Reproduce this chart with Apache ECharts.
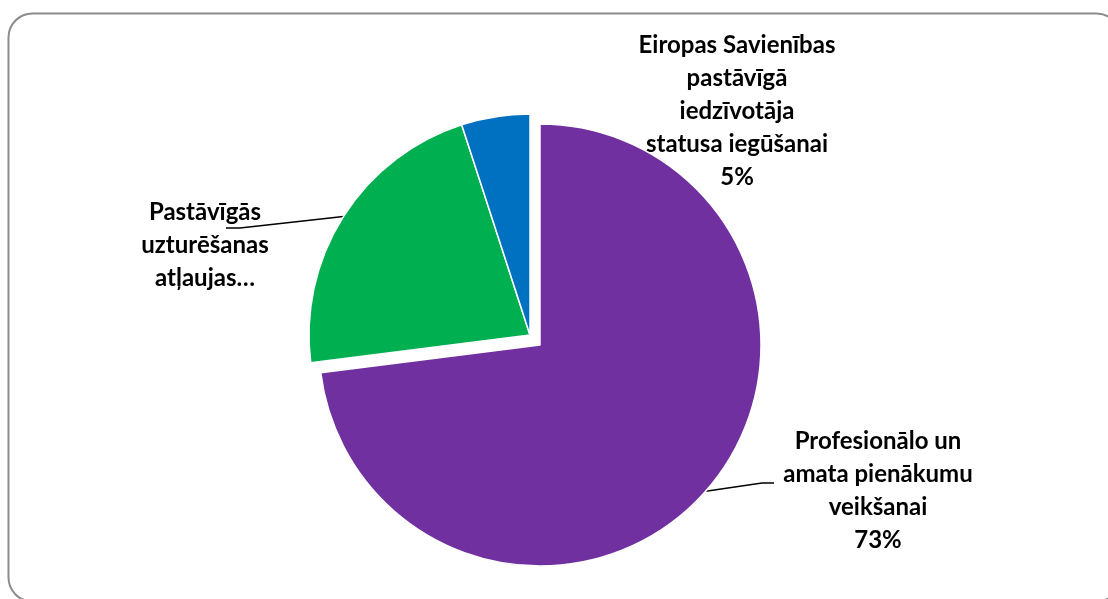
<!DOCTYPE html>
<html>
<head>
<meta charset="utf-8">
<title>pie</title>
<script src="https://cdn.jsdelivr.net/npm/echarts@6/dist/echarts.min.js"></script>
<style>
  html, body { margin: 0; padding: 0; background: #fff; }
  #chart { width: 1108px; height: 599px; }
</style>
</head>
<body>
<div id="chart"></div>
<script>
// dati
var categories = [
  'Profesionālo un\namata pienākumu\nveikšanai',
  'Pastāvīgās\nuzturēšanas\natļaujas…',
  'Eiropas Savienības\npastāvīgā\niedzīvotāja\nstatusa iegūšanai'
]
var values = [73, 22, 5]
var colors = ['#7030A0', '#00B050', '#0070C0']
// kurām daļām ir procents etiķetē
var showPercent = [true, false, true]
// kuras daļas ir "izvilktas" (zaļā un zilā kopā)
var exploded = [false, true, true]

var chart = echarts.init(document.getElementById('chart'))

// viena sērija zīmē tikai savas daļas, pārējās caurspīdīgas
function sliceData(keepExploded) {
  return categories.map(function (name, i) {
    var show = exploded[i] === keepExploded
    return {
      name: name,
      value: values[i],
      itemStyle: show
        ? { color: colors[i], borderColor: '#fff', borderWidth: 1.5 }
        : { color: 'transparent', borderWidth: 0 }
    }
  })
}

// neredzama kopija tikai etiķetēm
var labelData = categories.map(function (name, i) {
  return {
    name: name,
    value: values[i],
    labelLine: { show: i !== 2 }
  }
})

var pieCenter = [540, 345]
var explodeShift = [-10, -10]

var basePie = {
  type: 'pie',
  radius: 221,
  startAngle: 90,
  clockwise: true,
  silent: true,
  emphasis: { disabled: true },
  label: { show: false },
  labelLine: { show: false }
}

var option = {
  animation: false,
  // ārējais rāmis ar noapaļotiem stūriem
  graphic: [{
    type: 'rect',
    shape: { x: 8.5, y: 13.5, width: 1112, height: 588, r: 24 },
    style: { fill: 'none', stroke: '#8c8c8c', lineWidth: 2 },
    silent: true
  }],
  series: [
    Object.assign({}, basePie, {
      center: pieCenter,
      data: sliceData(false)
    }),
    Object.assign({}, basePie, {
      center: [pieCenter[0] + explodeShift[0], pieCenter[1] + explodeShift[1]],
      data: sliceData(true)
    }),
    Object.assign({}, basePie, {
      center: pieCenter,
      itemStyle: { color: 'transparent' },
      label: {
        show: true,
        position: 'outside',
        color: '#000',
        fontFamily: 'Lato',
        fontWeight: 'bold',
        fontSize: 24,
        lineHeight: 33,
        align: 'center',
        formatter: function (p) {
          if (showPercent[p.dataIndex]) return p.name + '\n' + Math.round(p.percent) + '%'
          return p.name
        }
      },
      labelLine: {
        show: true,
        length: 20,
        length2: 10,
        lineStyle: { color: '#000', width: 1.5 }
      },
      // etiķešu novietojums kā oriģinālā
      labelLayout: function (params) {
        var i = params.dataIndex
        var p = params.labelLinePoints
        if (i === 0) {
          return {
            x: 878, y: 491, align: 'center', verticalAlign: 'middle',
            labelLinePoints: p ? [p[0], [762, 483], [774, 483]] : undefined
          }
        }
        if (i === 1) {
          // sākums pie izvilktās daļas malas
          var s = [p[0][0] + explodeShift[0], p[0][1] + explodeShift[1]]
          return {
            x: 205, y: 245, align: 'center', verticalAlign: 'middle',
            labelLinePoints: p ? [s, [240, 228], [226, 228]] : undefined
          }
        }
        return { x: 737, y: 111, align: 'center', verticalAlign: 'middle' }
      },
      data: labelData
    })
  ]
}

chart.setOption(option)
</script>
</body>
</html>
